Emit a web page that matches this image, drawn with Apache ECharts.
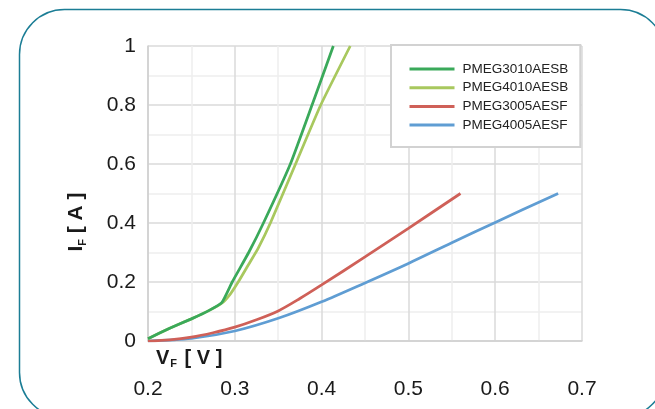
<!DOCTYPE html>
<html>
<head>
<meta charset="utf-8">
<script src="https://cdn.jsdelivr.net/npm/echarts@6/dist/echarts.min.js"></script>
<style>
  html, body { margin: 0; padding: 0; background: #ffffff; }
  #chart { width: 655px; height: 409px; }
</style>
</head>
<body>
<div id="chart"></div>
<script>
// Forward characteristics I_F(V_F) of four Schottky rectifiers
const seriesNames = ['PMEG3010AESB', 'PMEG4010AESB', 'PMEG3005AESF', 'PMEG4005AESF'];
const seriesColors = ['#3aa95a', '#a8c85e', '#cf6058', '#5f9dd3'];

const vf3010 = [0.200, 0.225, 0.250, 0.270, 0.285, 0.297, 0.316, 0.333, 0.364, 0.389, 0.4135];
const if3010 = [0.008, 0.043, 0.075, 0.103, 0.130, 0.200, 0.300, 0.400, 0.600, 0.800, 1.000];

const vf4010 = [0.200, 0.225, 0.250, 0.270, 0.285, 0.295, 0.305, 0.315, 0.327, 0.341, 0.370, 0.399, 0.433];
const if4010 = [0.008, 0.043, 0.075, 0.103, 0.128, 0.160, 0.205, 0.255, 0.315, 0.400, 0.600, 0.800, 1.000];

const vf3005 = [0.200, 0.225, 0.250, 0.275, 0.300, 0.325, 0.350, 0.375, 0.400, 0.450, 0.500, 0.560];
const if3005 = [0.000, 0.004, 0.013, 0.028, 0.047, 0.072, 0.102, 0.144, 0.190, 0.285, 0.382, 0.500];

const vf4005 = [0.200, 0.250, 0.300, 0.350, 0.400, 0.450, 0.500, 0.550, 0.600, 0.6725];
const if4005 = [0.000, 0.009, 0.034, 0.077, 0.133, 0.197, 0.263, 0.333, 0.402, 0.500];

const vfAxis = { min: 0.2, max: 0.7, step: 0.1 };
const ifAxis = { min: 0, max: 1, step: 0.2 };

const curves = [
  [vf3010, if3010],
  [vf4010, if4010],
  [vf3005, if3005],
  [vf4005, if4005]
];

const pairs = (xs, ys) => xs.map((x, i) => [x, ys[i]]);
const FONT = '"Liberation Sans", Arial, sans-serif';

const chart = echarts.init(document.getElementById('chart'), null, { renderer: 'canvas' });

chart.setOption({
  backgroundColor: '#ffffff',
  animation: false,
  textStyle: { fontFamily: FONT },
  grid: { left: 148, top: 46, right: 73, bottom: 68, containLabel: false },
  graphic: [
    {
      type: 'rect',
      z: -10,
      shape: { x: 19.5, y: 9.5, width: 646, height: 408, r: 45 },
      style: { fill: 'none', stroke: '#1b7d95', lineWidth: 1.5 }
    },
    {
      type: 'text',
      x: 76, y: 222,
      rotation: Math.PI / 2,
      style: {
        text: '{b|I}{s|F}{b| [ A ]}',
        align: 'center', verticalAlign: 'middle',
        fill: '#1a1a1a',
        rich: {
          b: { fontFamily: FONT, fontSize: 21, fontWeight: 'bold', lineHeight: 24, fill: '#1a1a1a' },
          s: { fontFamily: FONT, fontSize: 11, fontWeight: 'bold', lineHeight: 24, verticalAlign: 'bottom', fill: '#1a1a1a' }
        }
      }
    },
    {
      type: 'text',
      x: 156, y: 358,
      style: {
        text: '{b|V}{s|F}{b| [ V ]}',
        align: 'left', verticalAlign: 'middle',
        fill: '#1a1a1a',
        rich: {
          b: { fontFamily: FONT, fontSize: 20, fontWeight: 'bold', lineHeight: 22, fill: '#1a1a1a' },
          s: { fontFamily: FONT, fontSize: 11, fontWeight: 'bold', lineHeight: 22, verticalAlign: 'bottom', fill: '#1a1a1a', padding: [0, 2, 0, 1] }
        }
      }
    }
  ],
  legend: {
    data: seriesNames,
    orient: 'vertical',
    left: 391,
    top: 45,
    padding: [17, 12, 15, 17],
    itemWidth: 45,
    itemHeight: 14,
    itemGap: 4.7,
    backgroundColor: '#ffffff',
    borderColor: '#d2d2d2',
    borderWidth: 2,
    itemStyle: { opacity: 0 },
    lineStyle: { width: 3 },
    textStyle: { fontFamily: FONT, fontSize: 13.5, color: '#222222', padding: [0, 0, 0, 3] }
  },
  xAxis: {
    type: 'value',
    min: vfAxis.min,
    max: vfAxis.max,
    interval: vfAxis.step,
    axisLine: { show: true, lineStyle: { color: '#cfcfcf', width: 1.5 } },
    axisTick: { show: false },
    axisLabel: {
      margin: 38,
      fontFamily: FONT, fontSize: 21, color: '#1a1a1a',
      formatter: v => String(Math.round(v * 10) / 10)
    },
    splitLine: { show: true, lineStyle: { color: '#dadada', width: 1.5 } },
    minorTick: { show: false, splitNumber: 2 },
    minorSplitLine: { show: true, lineStyle: { color: '#eeeeee', width: 1.5 } }
  },
  yAxis: {
    type: 'value',
    min: ifAxis.min,
    max: ifAxis.max,
    interval: ifAxis.step,
    axisLine: { show: true, lineStyle: { color: '#cfcfcf', width: 1.5 } },
    axisTick: { show: false },
    axisLabel: {
      margin: 12,
      fontFamily: FONT, fontSize: 21, color: '#1a1a1a',
      formatter: v => String(Math.round(v * 10) / 10)
    },
    splitLine: { show: true, lineStyle: { color: '#dadada', width: 1.5 } },
    minorTick: { show: false, splitNumber: 2 },
    minorSplitLine: { show: true, lineStyle: { color: '#eeeeee', width: 1.5 } }
  },
  series: curves.map(([xs, ys], i) => ({
    name: seriesNames[i],
    type: 'line',
    data: pairs(xs, ys),
    symbol: 'none',
    smooth: i < 2 ? 0.15 : 0.3,
    color: seriesColors[i],
    lineStyle: { color: seriesColors[i], width: 2.75 },
    z: 10 - i
  }))
});
</script>
</body>
</html>
